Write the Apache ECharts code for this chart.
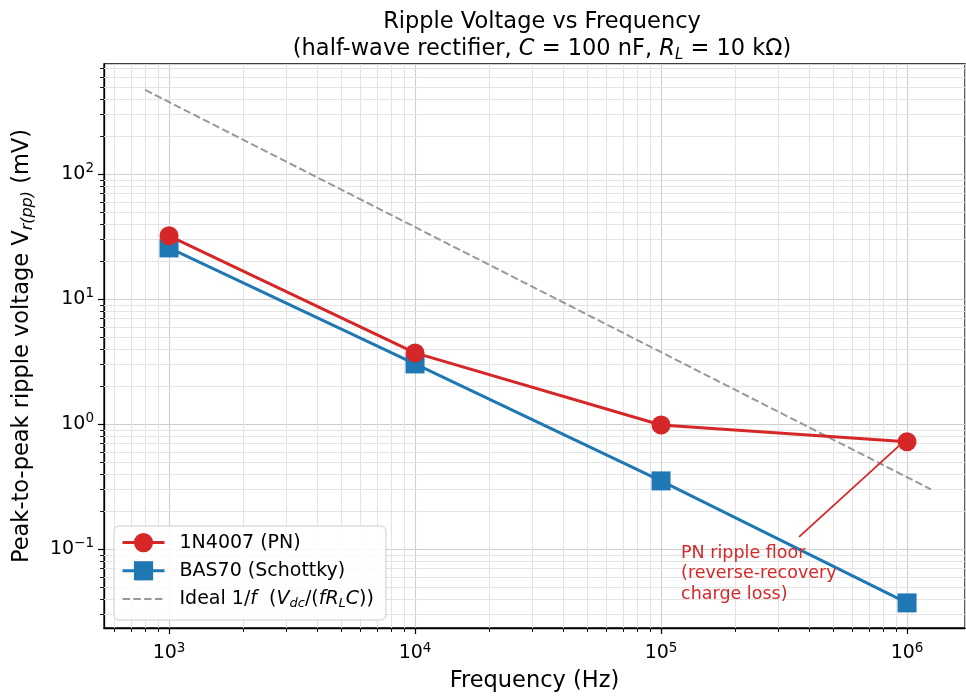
<!DOCTYPE html>
<html>
<head>
<meta charset="utf-8">
<script src="https://cdn.jsdelivr.net/npm/echarts@6/dist/echarts.min.js"></script>
<style>
  html, body { margin: 0; padding: 0; background: #fff; }
  #chart { width: 966px; height: 700px; }
</style>
</head>
<body>
<div id="chart"></div>
<script>
// measured values (frequency in Hz, ripple in mV)
const freq = [1e3, 1e4, 1e5, 1e6];
const pnRipple = [32, 3.7, 0.98, 0.72];
const schottkyRipple = [25.6, 3.02, 0.35, 0.037];
const idealFreq = [800, 1.25e6];
const idealRipple = [470, 0.30];

// axis ranges + minor tick positions
const X_MIN = 544, X_MAX = 1.72e6;
const Y_MIN = 0.0233, Y_MAX = 758;
const xMinor = [600, 700, 800, 900,
  2e3, 3e3, 4e3, 5e3, 6e3, 7e3, 8e3, 9e3,
  2e4, 3e4, 4e4, 5e4, 6e4, 7e4, 8e4, 9e4,
  2e5, 3e5, 4e5, 5e5, 6e5, 7e5, 8e5, 9e5];
const yMinor = [0.03, 0.04, 0.05, 0.06, 0.07, 0.08, 0.09,
  0.2, 0.3, 0.4, 0.5, 0.6, 0.7, 0.8, 0.9,
  2, 3, 4, 5, 6, 7, 8, 9,
  20, 30, 40, 50, 60, 70, 80, 90,
  200, 300, 400, 500, 600, 700];

// annotation anchors (data coords)
const noteText = [1.206e5, 0.1117];
const arrowFrom = [3.64e5, 0.1247];
const arrowTo = [9.27e5, 0.667];

const C = { red: "#d62728", blue: "#1f77b4", grey: "#999999", major: "#cfcfcf", minor: "#e4e4e4" };
const FONT = "DejaVu Sans";

const pair = (xs, ys) => xs.map((x, i) => [x, ys[i]]);

const supLabel = (v) => {
  const e = Math.round(Math.log10(v));
  if (Math.abs(Math.log10(v) - e) > 1e-6) return "";
  return "{b|10}{s|" + (e < 0 ? "\u2212" + (-e) : e) + "}";
};
const tickRich = {
  b: { fontFamily: FONT, fontSize: 19, color: "#000", lineHeight: 24 },
  s: { fontFamily: FONT, fontSize: 13.5, color: "#000", lineHeight: 14, verticalAlign: "top" }
};

function minorXItem(params, api) {
  const x = api.value(0);
  const top = api.coord([x, Y_MAX]);
  const bot = api.coord([x, Y_MIN]);
  const px = Math.round(bot[0]) + 0.5;
  return { type: "group", children: [
    { type: "line", shape: { x1: px, y1: top[1], x2: px, y2: bot[1] }, style: { stroke: C.minor, lineWidth: 1 } },
    { type: "line", shape: { x1: px, y1: bot[1], x2: px, y2: bot[1] + 4 }, style: { stroke: "#000", lineWidth: 0.9 } }
  ]};
}
function minorYItem(params, api) {
  const y = api.value(1);
  const l = api.coord([X_MIN, y]);
  const r = api.coord([X_MAX, y]);
  const py = Math.round(l[1]) + 0.5;
  return { type: "group", children: [
    { type: "line", shape: { x1: l[0], y1: py, x2: r[0], y2: py }, style: { stroke: C.minor, lineWidth: 1 } },
    { type: "line", shape: { x1: l[0] - 4, y1: py, x2: l[0], y2: py }, style: { stroke: "#000", lineWidth: 0.9 } }
  ]};
}

const axisBase = {
  type: "log", logBase: 10,
  axisLine: { show: true, lineStyle: { color: "#000", width: 1.3 } },
  axisTick: { show: true, length: 6, lineStyle: { color: "#000", width: 1.2 } },
  splitLine: { show: true, lineStyle: { color: C.major, width: 1.1 } },
  minorTick: { show: false }, minorSplitLine: { show: false },
  axisLabel: { formatter: supLabel, rich: tickRich, showMinLabel: false, showMaxLabel: false },
  nameLocation: "middle"
};

const legendRich = {
  f: { fontFamily: FONT, fontSize: 19, color: "#000", lineHeight: 22, padding: [0, 0, 0, 10] },
  t: { fontFamily: FONT, fontSize: 19, color: "#000", lineHeight: 22 },
  i: { fontFamily: FONT, fontSize: 19, color: "#000", fontStyle: "italic", lineHeight: 22 },
  sub: { fontFamily: FONT, fontSize: 13, color: "#000", fontStyle: "italic", lineHeight: 13, verticalAlign: "bottom" }
};

const chart = echarts.init(document.getElementById("chart"), null, { renderer: "canvas" });
chart.setOption({
  animation: false,
  textStyle: { fontFamily: FONT },
  title: {
    left: 537, top: 4, textAlign: "center",
    text: "{t|Ripple Voltage vs Frequency}\n{t|(half-wave rectifier, }{i|C}{t| = 100 nF, }{i|R}{sub|L}{t| = 10 k\u03a9)}",
    textStyle: {
      fontWeight: "normal",
      rich: {
        t: { fontFamily: FONT, fontSize: 22.5, fontWeight: "normal", color: "#000", lineHeight: 27 },
        i: { fontFamily: FONT, fontSize: 22.5, fontWeight: "normal", color: "#000", fontStyle: "italic", lineHeight: 27 },
        sub: { fontFamily: FONT, fontSize: 15, fontWeight: "normal", color: "#000", fontStyle: "italic", lineHeight: 17, verticalAlign: "bottom" }
      }
    }
  },
  grid: { left: 104, right: 1, top: 64, bottom: 72, show: true, borderColor: "#000", borderWidth: 1.3 },
  legend: {
    orient: "vertical", left: 114, top: 526,
    data: [
      { name: "1N4007 (PN)", lineStyle: { width: 3 } },
      { name: "BAS70 (Schottky)", lineStyle: { width: 3 } },
      { name: "Ideal", lineStyle: { width: 2 }, itemStyle: { color: "rgba(0,0,0,0)", borderWidth: 0 } }
    ],
    itemWidth: 42, itemHeight: 24, itemGap: 9,
    padding: [7, 12, 10, 7],
    backgroundColor: "rgba(255,255,255,0.85)", borderColor: "#cccccc", borderWidth: 1, borderRadius: 5,
    selectedMode: false,
    formatter: (name) => name === "Ideal"
      ? "{f|Ideal 1/}{i|f}{t|  (}{i|V}{sub|dc}{t|/(}{i|fR}{sub|L}{i|C}{t|))}"
      : "{f|" + name + "}",
    textStyle: { rich: legendRich }
  },
  xAxis: {
    ...axisBase, min: X_MIN, max: X_MAX,
    axisLabel: { ...axisBase.axisLabel, margin: 13 },
    name: "Frequency (Hz)", nameGap: 42,
    nameTextStyle: { fontFamily: FONT, fontSize: 22.5, color: "#000" }
  },
  yAxis: {
    ...axisBase, min: Y_MIN, max: Y_MAX,
    axisLabel: { ...axisBase.axisLabel, margin: 10 },
    name: "{t|Peak-to-peak ripple voltage V}{sub|r(pp)}{t| (mV)}", nameGap: 68,
    nameTextStyle: {
      rich: {
        t: { fontFamily: FONT, fontSize: 22.5, color: "#000", lineHeight: 27 },
        sub: { fontFamily: FONT, fontSize: 16, color: "#000", fontStyle: "italic", lineHeight: 18, verticalAlign: "bottom" }
      }
    }
  },
  series: [
    {
      type: "custom", name: "minorX", silent: true, clip: false, z: 1,
      renderItem: minorXItem, data: xMinor.map(x => [x, Y_MIN])
    },
    {
      type: "custom", name: "minorY", silent: true, clip: false, z: 1,
      renderItem: minorYItem, data: yMinor.map(y => [X_MIN, y])
    },
    {
      name: "Ideal", type: "line", z: 3, silent: true,
      data: pair(idealFreq, idealRipple), showSymbol: false, symbol: "none",
      lineStyle: { color: C.grey, width: 2, type: [7.5, 3.3] }, itemStyle: { color: C.grey }
    },
    {
      name: "BAS70 (Schottky)", type: "line", z: 4,
      data: pair(freq, schottkyRipple),
      symbol: "rect", symbolSize: 19,
      lineStyle: { color: C.blue, width: 3 }, itemStyle: { color: C.blue }
    },
    {
      name: "1N4007 (PN)", type: "line", z: 5,
      data: pair(freq, pnRipple),
      symbol: "circle", symbolSize: 19,
      lineStyle: { color: C.red, width: 3 }, itemStyle: { color: C.red },
      markLine: {
        silent: true, symbol: ["none", "arrow"], symbolSize: [0, 10],
        lineStyle: { color: C.red, width: 1.8, type: "solid" },
        label: { show: false },
        data: [[{ coord: arrowFrom }, { coord: arrowTo }]]
      },
      markPoint: {
        silent: true, symbol: "circle", symbolSize: 0,
        data: [{
          coord: noteText,
          label: {
            show: true, position: [0, 0], align: "left", verticalAlign: "top",
            color: C.red, fontFamily: FONT, fontSize: 17.5, lineHeight: 20.5,
            formatter: "PN ripple floor\n(reverse-recovery\ncharge loss)"
          }
        }]
      }
    }
  ]
});
</script>
</body>
</html>
